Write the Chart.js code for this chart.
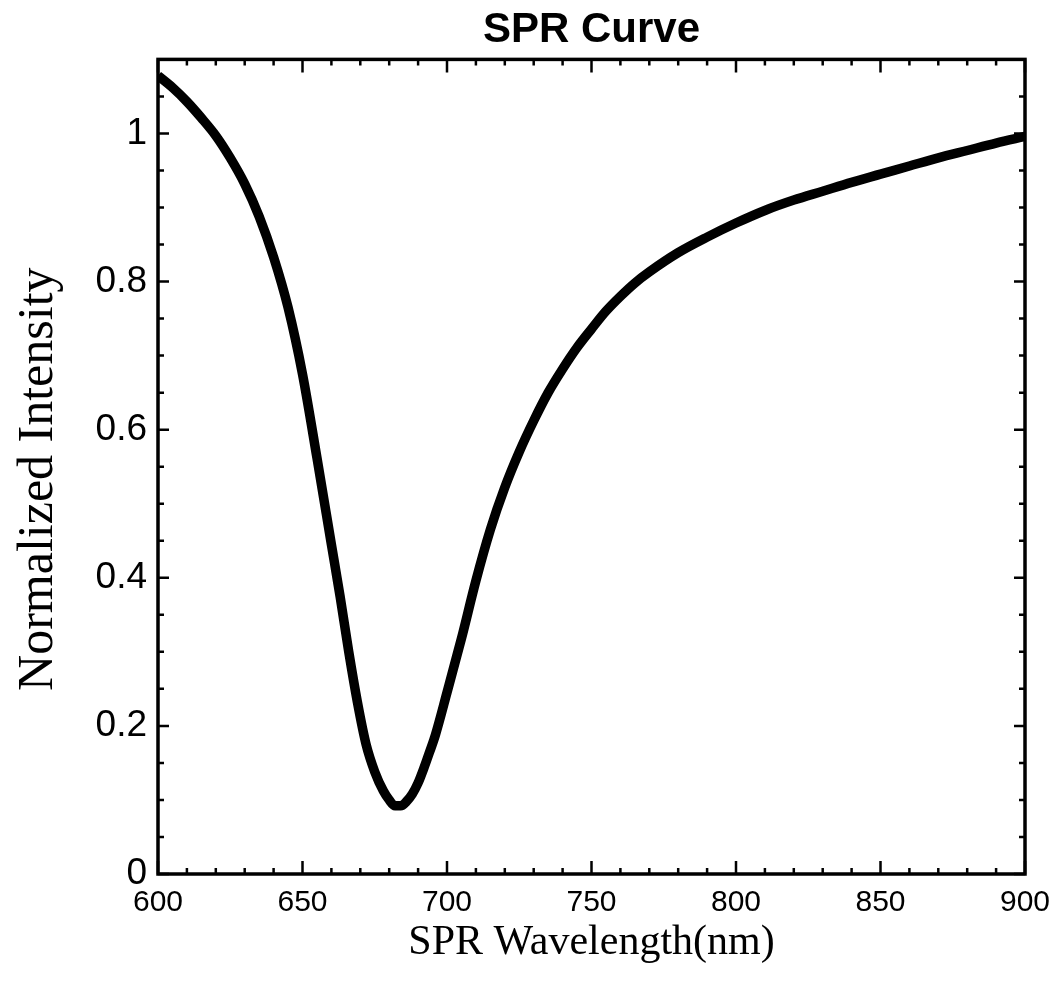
<!DOCTYPE html>
<html><head><meta charset="utf-8">
<script src="https://cdn.jsdelivr.net/npm/chart.js@4.4.1/dist/chart.umd.min.js"></script>
<style>html,body{margin:0;padding:0;background:#fff;} #wrap{width:1064px;height:984px;}</style>
</head><body><div id="wrap"><canvas id="c" width="1064" height="984"></canvas></div>
<script>
const wavelengths = [600,605,610,615,620,625,630,635,640,645,650,655,660,663,666,669,672,675,678,680,682,684,686,688,690,692,694,696,700,705,710,715,720,725,730,735,740,745,750,755,760,765,770,780,790,800,810,820,830,840,850,860,870,880,890,900];
const intensity = [1.078,1.062,1.043,1.021,0.997,0.967,0.932,0.888,0.833,0.765,0.675,0.562,0.445,0.375,0.300,0.232,0.175,0.138,0.112,0.100,0.092,0.092,0.098,0.108,0.123,0.143,0.165,0.188,0.245,0.318,0.396,0.465,0.522,0.570,0.612,0.650,0.682,0.711,0.736,0.760,0.780,0.798,0.813,0.839,0.860,0.879,0.896,0.910,0.922,0.934,0.945,0.956,0.967,0.977,0.987,0.996];
const xTickValues = [600,650,700,750,800,850,900];
const xTickLabels = ['600','650','700','750','800','850','900'];
const yTickValues = [0,0.2,0.4,0.6,0.8,1];
const yTickLabels = ['0','0.2','0.4','0.6','0.8','1'];
const xMinorStep = 10;
const yMinorStep = 0.05;
const xRange = [600,900];
const yRange = [0,1.1];

const framePlugin = {
  id: 'frame',
  afterDatasetsDraw(chart) {
    const {ctx, chartArea: a, scales: {x, y}} = chart;
    ctx.save();
    ctx.strokeStyle = '#000';
    ctx.lineWidth = 2.5;
    ctx.beginPath();
    const nx = Math.round((xRange[1]-xRange[0])/xMinorStep);
    for (let i = 0; i <= nx; i++) {
      const v = xRange[0] + i*xMinorStep;
      const px = x.getPixelForValue(v);
      const L = (i % 5 === 0) ? 13 : 6;
      ctx.moveTo(px, a.bottom); ctx.lineTo(px, a.bottom - L);
      ctx.moveTo(px, a.top); ctx.lineTo(px, a.top + L);
    }
    const ny = Math.round((yRange[1]-yRange[0])/yMinorStep);
    for (let i = 0; i <= ny; i++) {
      const v = yRange[0] + i*yMinorStep;
      const py = y.getPixelForValue(v);
      const L = (i % 4 === 0) ? 11 : 6;
      ctx.moveTo(a.left, py); ctx.lineTo(a.left + L, py);
      ctx.moveTo(a.right, py); ctx.lineTo(a.right - L, py);
    }
    ctx.stroke();
    ctx.lineWidth = 3.5;
    ctx.strokeRect(a.left, a.top, a.right - a.left, a.bottom - a.top);
    ctx.restore();
  }
};

new Chart(document.getElementById('c'), {
  type: 'line',
  data: {
    datasets: [{
      data: wavelengths.map((w, i) => ({x: w, y: intensity[i]})),
      borderColor: '#000',
      borderWidth: 9.5,
      pointRadius: 0,
      cubicInterpolationMode: 'monotone',
      fill: false
    }]
  },
  options: {
    responsive: false,
    animation: false,
    layout: {padding: {left: 0, right: 39, top: 0, bottom: 0}},
    plugins: {
      legend: {display: false},
      tooltip: {enabled: false},
      title: {
        display: true,
        fullSize: false,
        text: 'SPR Curve',
        color: '#000',
        font: {family: "'Liberation Sans', Arial, sans-serif", size: 42, weight: 'bold'},
        padding: {top: 5, bottom: 4}
      }
    },
    scales: {
      x: {
        type: 'linear', min: xRange[0], max: xRange[1],
        afterBuildTicks: s => { s.ticks = xTickValues.map(v => ({value: v})); },
        afterFit: s => { s.height = 110; },
        ticks: {
          callback: v => xTickLabels[xTickValues.indexOf(v)],
          color: '#000', padding: 11, maxRotation: 0, autoSkip: false,
          font: {family: "'Liberation Sans', Arial, sans-serif", size: 30}
        },
        grid: {display: false, drawTicks: false},
        border: {display: false},
        title: {
          display: true, text: 'SPR Wavelength(nm)', color: '#000',
          font: {family: "'Liberation Serif', 'Times New Roman', serif", size: 42},
          padding: {top: 0, bottom: 16}
        }
      },
      y: {
        type: 'linear', min: yRange[0], max: yRange[1],
        afterBuildTicks: s => { s.ticks = yTickValues.map(v => ({value: v})); },
        afterFit: s => { s.width = 158; },
        ticks: {
          callback: v => yTickLabels[yTickValues.indexOf(v)],
          color: '#000', padding: 11,
          font: {family: "'Liberation Sans', Arial, sans-serif", size: 37}
        },
        grid: {display: false, drawTicks: false},
        border: {display: false},
        title: {
          display: true, text: 'Normalized Intensity  ', color: '#000',
          font: {family: "'Liberation Serif', 'Times New Roman', serif", size: 50},
          padding: {top: 9, bottom: 0}
        }
      }
    }
  },
  plugins: [framePlugin]
});
</script>
</body></html>
